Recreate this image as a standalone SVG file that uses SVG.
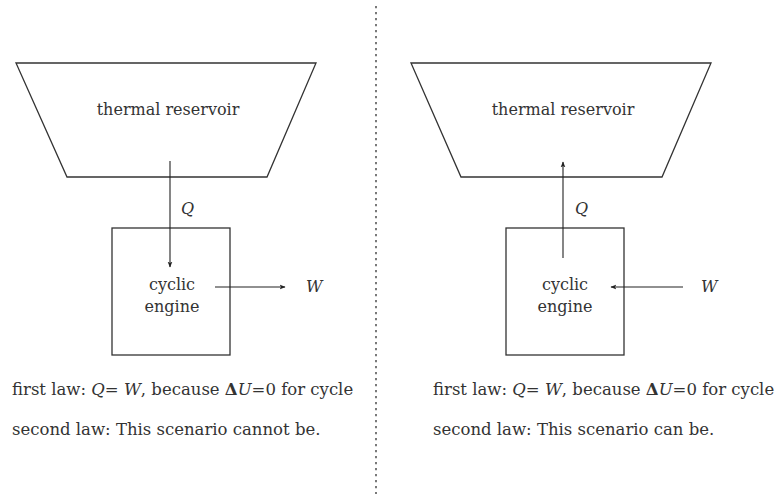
<svg xmlns="http://www.w3.org/2000/svg" width="777" height="498" viewBox="0 0 777 498">
<style>
.shape{fill:none;stroke:#333;stroke-width:1.3}
.conn{fill:none;stroke:#222;stroke-width:1.1}
.t{font-family:"DejaVu Serif",serif;font-size:16px;fill:#333}
.b{font-family:"DejaVu Serif",serif;font-size:16.5px;fill:#333}
.m{font-family:"DejaVu Serif",serif;font-style:italic;fill:#333}
.c{text-anchor:middle}
</style>
<defs>
<marker id="ah" viewBox="0 0 10 10" refX="9" refY="5" markerWidth="6" markerHeight="6" orient="auto" markerUnits="userSpaceOnUse">
<path d="M0,1 L10,5 L0,9 L2.5,5 Z" fill="#222"/>
</marker>
</defs>
<rect width="777" height="498" fill="#fff"/>
<line x1="376" y1="6" x2="376" y2="494" stroke="#333" stroke-width="1.3" stroke-dasharray="2.2 3.8"/>
<g id="reservoir-left">
<polygon class="shape" points="16,63 316,63 267,177 67,177"/>
<text class="t c" x="168" y="115">thermal reservoir</text>
</g>
<g id="engine-left">
<rect class="shape" x="112" y="228" width="118" height="127"/>
<text class="t c" x="172" y="290">cyclic</text>
<text class="t c" x="172" y="312">engine</text>
</g>
<g id="reservoir-right">
<polygon class="shape" points="411,63 711,63 662,177 461,177"/>
<text class="t c" x="563" y="115">thermal reservoir</text>
</g>
<g id="engine-right">
<rect class="shape" x="506" y="228" width="118" height="127"/>
<text class="t c" x="565" y="290">cyclic</text>
<text class="t c" x="565" y="312">engine</text>
</g>
<g id="connectors">
<line class="conn" x1="170" y1="161" x2="170" y2="267" marker-end="url(#ah)"/>
<line class="conn" x1="215" y1="287" x2="285" y2="287" marker-end="url(#ah)"/>
<line class="conn" x1="563" y1="258" x2="563" y2="162" marker-end="url(#ah)"/>
<line class="conn" x1="683" y1="287" x2="611" y2="287" marker-end="url(#ah)"/>
</g>
<g id="labels">
<text class="t m" x="181" y="214">Q</text>
<text class="t m" x="306" y="292">W</text>
<text class="t m" x="575" y="214">Q</text>
<text class="t m" x="701" y="292">W</text>
<text class="b" x="12" y="395">first law: <tspan class="m">Q</tspan>= <tspan class="m">W</tspan>, because <tspan font-weight="bold">Δ</tspan><tspan class="m">U</tspan>=0 for cycle</text>
<text class="b" x="12" y="435">second law: This scenario cannot be.</text>
<text class="b" x="433" y="395">first law: <tspan class="m">Q</tspan>= <tspan class="m">W</tspan>, because <tspan font-weight="bold">Δ</tspan><tspan class="m">U</tspan>=0 for cycle</text>
<text class="b" x="433" y="435">second law: This scenario can be.</text>
</g>
</svg>
